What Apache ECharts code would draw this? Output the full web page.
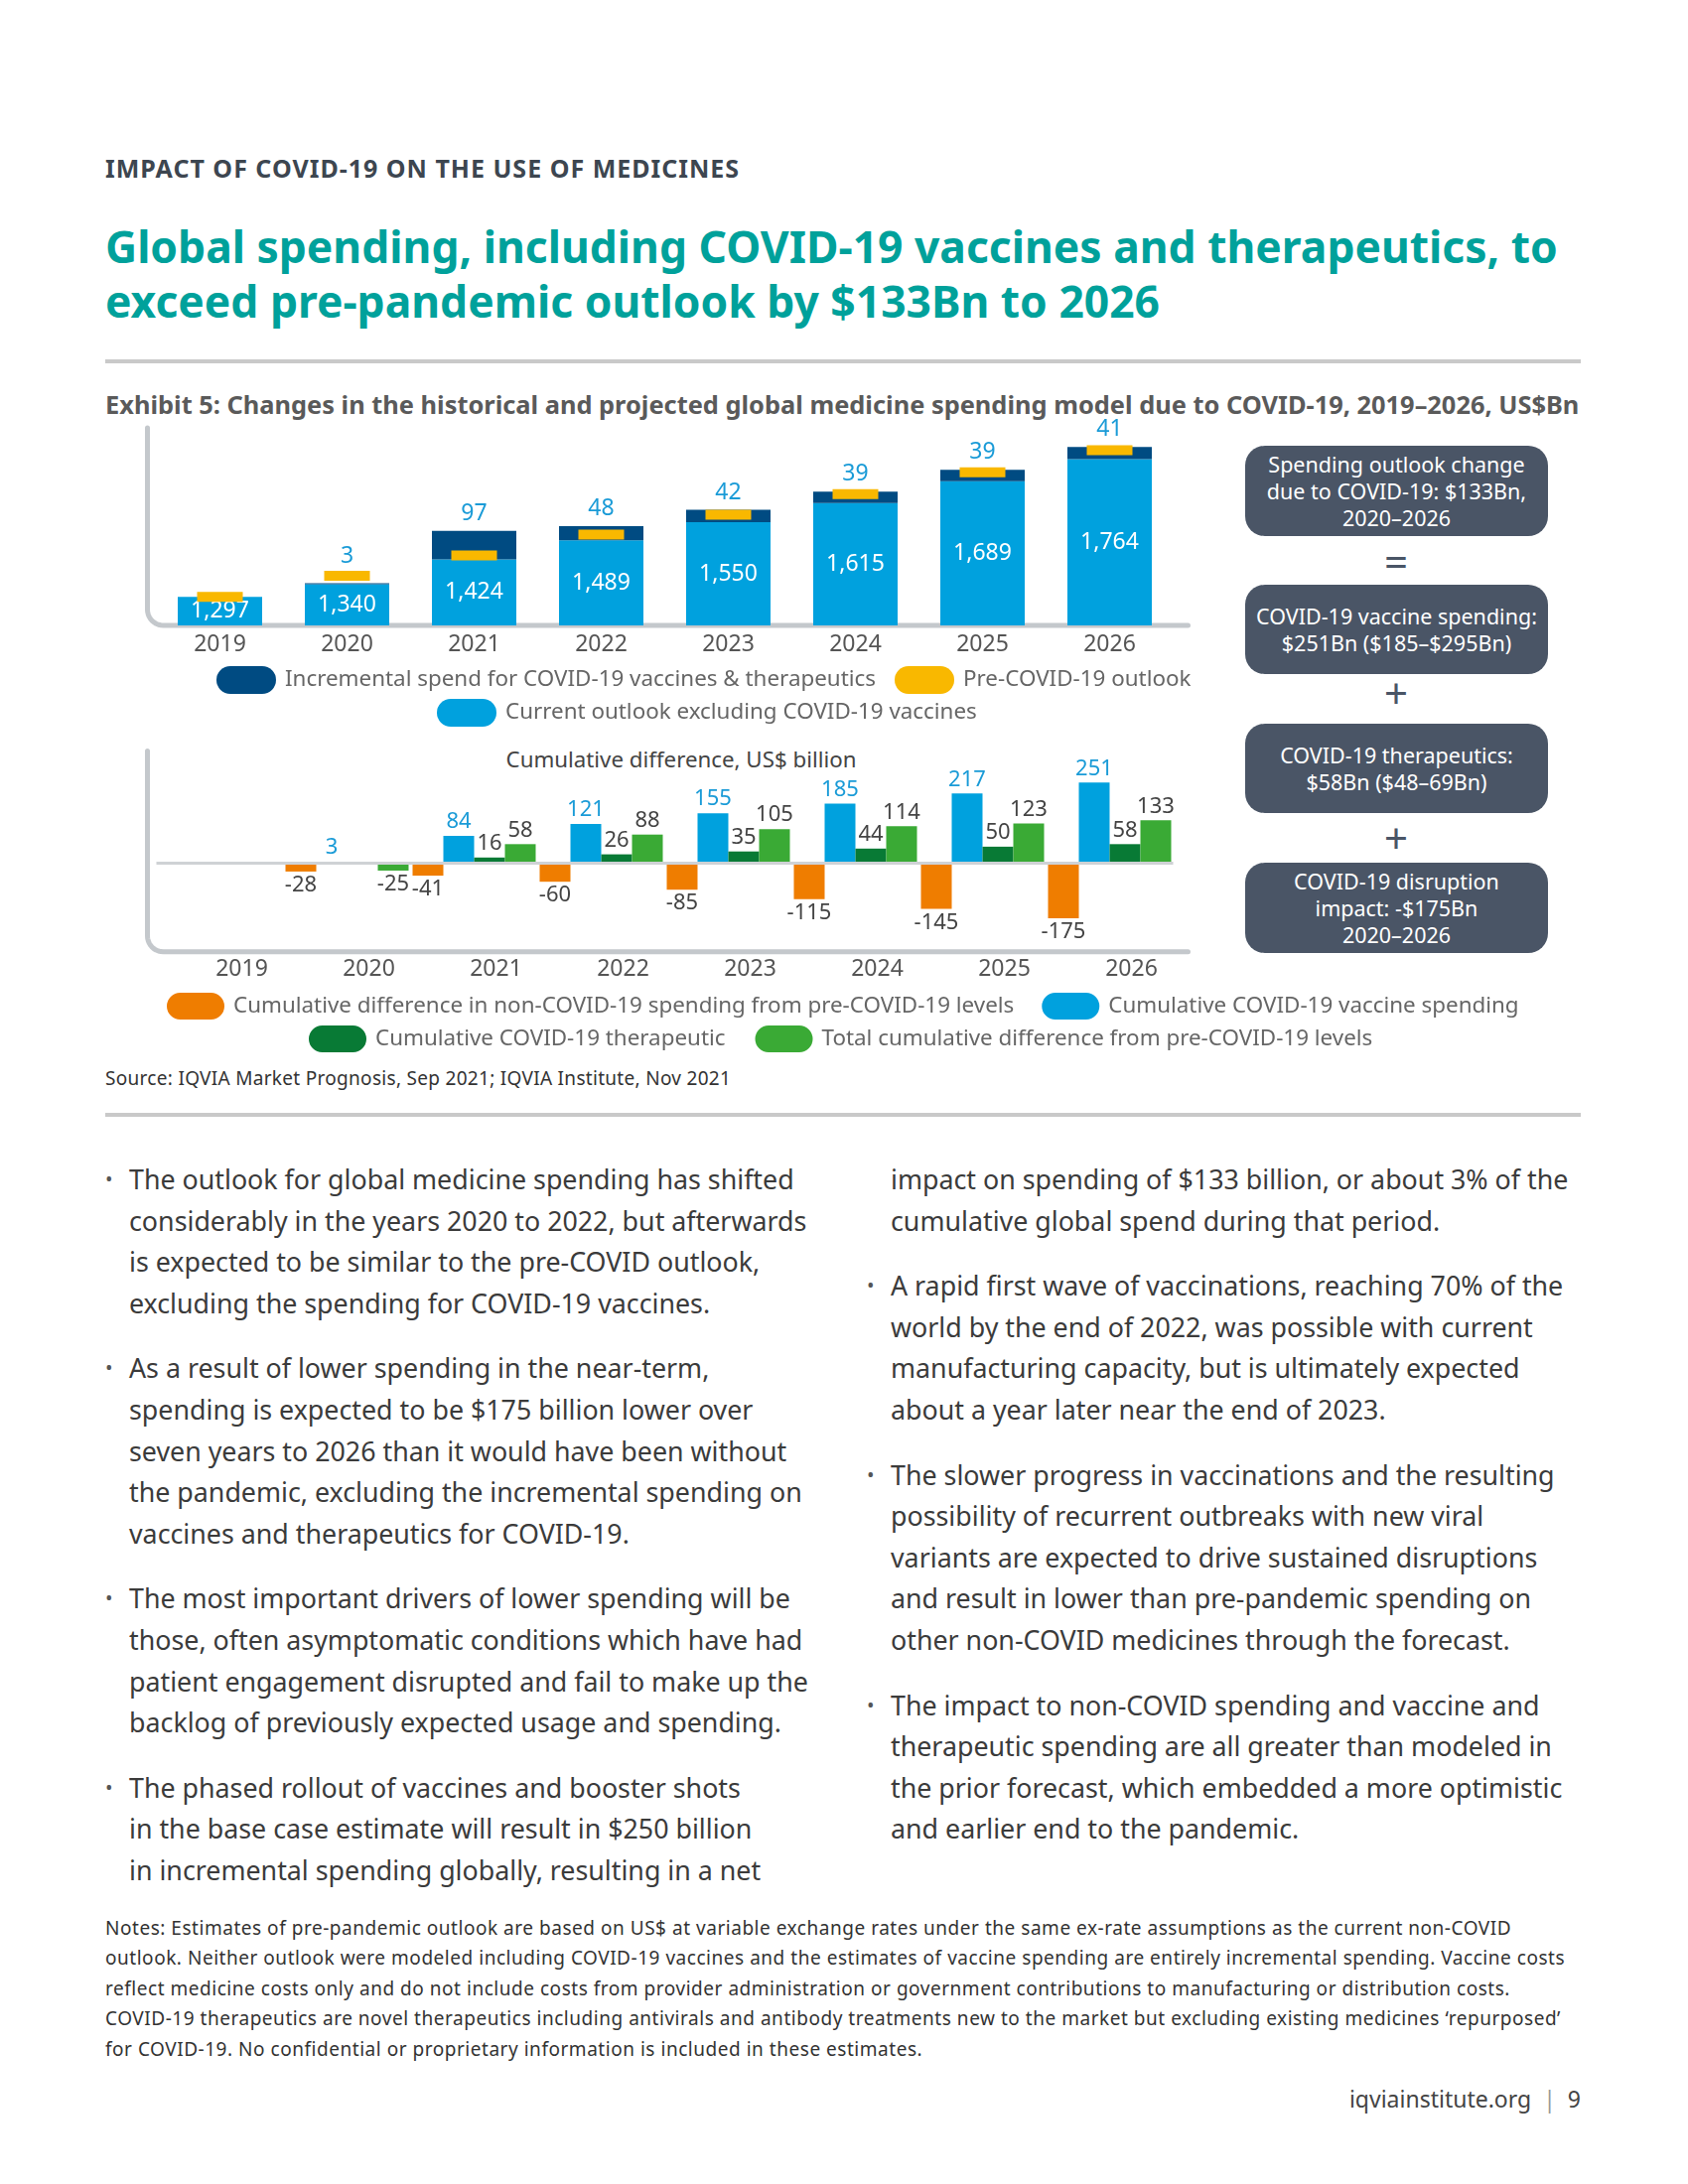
<!DOCTYPE html>
<html><head><meta charset="utf-8">
<script src="https://cdn.jsdelivr.net/npm/echarts@6/dist/echarts.min.js"></script>
<style>
body{margin:0;background:#fff;}
#page{position:relative;width:1700px;height:2200px;font-family:'Noto Sans',sans-serif;color:#3b3b3b;overflow:hidden;background:#fff;}
.abs{position:absolute;white-space:nowrap;}
#chart{position:absolute;left:0;top:0;width:1700px;height:2200px;}
.box{position:absolute;left:1254px;width:305px;background:#4a5566;color:#fff;border-radius:20px;font-size:21.5px;line-height:27px;text-align:center;display:flex;align-items:center;justify-content:center;}
.sym{position:absolute;left:1356px;width:100px;text-align:center;font-size:42px;color:#4a5566;line-height:42px;}
.rule{position:absolute;left:106px;width:1486px;height:4px;background:#c9c9c9;}
.col{position:absolute;top:1167px;font-size:26.8px;line-height:41.6px;color:#3b3b3b;white-space:nowrap;}
.col p{margin:0 0 24px 0;position:relative;}
.col p.b::before{content:'•';position:absolute;left:-24px;color:#555;font-size:20px;}
</style></head>
<body><div id="page">
<div class="abs" style="left:106px;top:154px;font-size:25px;letter-spacing:1px;font-weight:bold;color:#3d4650;line-height:30px;">IMPACT OF COVID-19 ON THE USE OF MEDICINES</div>
<div class="abs" style="left:106px;top:221px;font-size:44.4px;font-weight:bold;color:#00a19b;line-height:55px;">Global spending, including COVID-19 vaccines and therapeutics, to<br>exceed pre-pandemic outlook by $133Bn to 2026</div>
<div class="rule" style="top:362px;"></div>
<div class="abs" style="left:106px;top:392px;font-size:25.4px;font-weight:bold;color:#5a5a5a;line-height:30px;">Exhibit 5: Changes in the historical and projected global medicine spending model due to COVID-19, 2019–2026, US$Bn</div>

<div class="box" style="top:449px;height:91px;">Spending outlook change<br>due to COVID-19: $133Bn,<br>2020–2026</div>
<div class="sym" style="top:544px;">=</div>
<div class="box" style="top:589px;height:90px;">COVID-19 vaccine spending:<br>$251Bn ($185–$295Bn)</div>
<div class="sym" style="top:677px;">+</div>
<div class="box" style="top:729px;height:90px;">COVID-19 therapeutics:<br>$58Bn ($48–69Bn)</div>
<div class="sym" style="top:823px;">+</div>
<div class="box" style="top:869px;height:91px;">COVID-19 disruption<br>impact: -$175Bn<br>2020–2026</div>

<div class="abs" style="left:486px;width:400px;text-align:center;top:751px;font-size:22.3px;line-height:28px;color:#444;">Cumulative difference, US$ billion</div>

<div class="abs" style="left:106px;top:1073px;font-size:19px;letter-spacing:0.3px;line-height:26px;color:#333;">Source: IQVIA Market Prognosis, Sep 2021; IQVIA Institute, Nov 2021</div>
<div class="rule" style="top:1121px;"></div>

<div class="col" style="left:130px;">
<p class="b">The outlook for global medicine spending has shifted<br>considerably in the years 2020 to 2022, but afterwards<br>is expected to be similar to the pre-COVID outlook,<br>excluding the spending for COVID-19 vaccines.</p>
<p class="b">As a result of lower spending in the near-term,<br>spending is expected to be $175 billion lower over<br>seven years to 2026 than it would have been without<br>the pandemic, excluding the incremental spending on<br>vaccines and therapeutics for COVID-19.</p>
<p class="b">The most important drivers of lower spending will be<br>those, often asymptomatic conditions which have had<br>patient engagement disrupted and fail to make up the<br>backlog of previously expected usage and spending.</p>
<p class="b">The phased rollout of vaccines and booster shots<br>in the base case estimate will result in $250 billion<br>in incremental spending globally, resulting in a net</p>
</div>
<div class="col" style="left:897px;">
<p>impact on spending of $133 billion, or about 3% of the<br>cumulative global spend during that period.</p>
<p class="b">A rapid first wave of vaccinations, reaching 70% of the<br>world by the end of 2022, was possible with current<br>manufacturing capacity, but is ultimately expected<br>about a year later near the end of 2023.</p>
<p class="b">The slower progress in vaccinations and the resulting<br>possibility of recurrent outbreaks with new viral<br>variants are expected to drive sustained disruptions<br>and result in lower than pre-pandemic spending on<br>other non-COVID medicines through the forecast.</p>
<p class="b">The impact to non-COVID spending and vaccine and<br>therapeutic spending are all greater than modeled in<br>the prior forecast, which embedded a more optimistic<br>and earlier end to the pandemic.</p>
</div>

<div class="abs" style="left:106px;top:1927px;font-size:19px;letter-spacing:0.53px;line-height:30.4px;color:#333;">Notes: Estimates of pre-pandemic outlook are based on US$ at variable exchange rates under the same ex-rate assumptions as the current non-COVID<br>outlook. Neither outlook were modeled including COVID-19 vaccines and the estimates of vaccine spending are entirely incremental spending. Vaccine costs<br>reflect medicine costs only and do not include costs from provider administration or government contributions to manufacturing or distribution costs.<br>COVID-19 therapeutics are novel therapeutics including antivirals and antibody treatments new to the market but excluding existing medicines ‘repurposed’<br>for COVID-19. No confidential or proprietary information is included in these estimates.</div>

<div class="abs" style="right:108px;top:2099px;font-size:23px;line-height:30px;color:#444;">iqviainstitute.org <span style="color:#999;margin:0 6px;">|</span> 9</div>

<div id="chart"></div>
</div>
<script>
// ---- data ----
const years = ['2019','2020','2021','2022','2023','2024','2025','2026'];
const currentOutlook = [1297,1340,1424,1489,1550,1615,1689,1764];
const incrementalSpend = [0,3,97,48,42,39,39,41];
const preCovidOutlook = [1297,1368,1437,1508,1575,1645,1719,1794];
const nonCovidCumDiff = [null,-28,-41,-60,-85,-115,-145,-175];
const vaccineCum = [null,3,84,121,155,185,217,251];
const therapeuticCum = [null,0,16,26,35,44,50,58];
const totalCumDiff = [null,-25,58,88,105,114,123,133];

const C = {light:'#00a1de', navy:'#004b82', yellow:'#f9b800', orange:'#ef7d00', dkgreen:'#087a35', green:'#3aaa35', axis:'#c4c8cc', valBlue:'#1a9bd7'};
const FONT = 'Noto Sans';
const pill = 'path://M14,0 H46 A14,14 0 0 1 46,28 H14 A14,14 0 0 1 14,0 Z';

const topMin = 1200, topMax = 1870;
const G0 = {left:157.5, top:431, width:1024, height:199};
const G1 = {left:157.5, top:756.6, width:1024, height:202.2};
const ppu = G0.height / (topMax - topMin);

const chart = echarts.init(document.getElementById('chart'), null, {renderer:'canvas'});

const lbl = (extra) => Object.assign({show:true, fontFamily:FONT, fontSize:22, color:'#444'}, extra || {});
const hideZero = p => (p.value === null || p.value === undefined || p.value === 0) ? '' : String(p.value);
const lowerData = arr => arr.map(v => v === null ? null : ({value:v, label:{position: v < 0 ? 'bottom' : 'top'}}));

const catAxis = (gi, extra) => Object.assign({
  gridIndex:gi, type:'category', data:years,
  axisLine:{show:false}, axisTick:{show:false}
}, extra);
const valAxis = (gi, mn, mx) => ({
  gridIndex:gi, type:'value', min:mn, max:mx,
  axisLine:{show:false}, axisTick:{show:false}, axisLabel:{show:false}, splitLine:{show:false}
});
const legText = {fontFamily:FONT, fontSize:22.4, color:'#666', padding:[0,0,0,4]};

// rounded L-shaped frame around each plot (decoration derived from the grid boxes)
const frame = (g, extL, extR, r) => {
  const x = g.left - extL, y0 = g.top, y1 = g.top + g.height, x1 = g.left + g.width + extR;
  const pts = [[x, y0]];
  for (let k = 0; k <= 10; k++) {
    const a = Math.PI - (Math.PI / 2) * (k / 10); // from 180deg to 90deg (downwards in screen)
    pts.push([x + r + r * Math.cos(a), y1 - r + r * Math.sin(a)]);
  }
  pts.push([x1, y1]);
  return {type:'polyline', silent:true, z:0,
    shape:{points:pts},
    style:{stroke:C.axis, lineWidth:5, fill:null, lineCap:'round', lineJoin:'round'}};
};

chart.setOption({
  animation:false,
  grid:[ G0, G1 ],
  graphic:[ frame(G0, 9, 15, 16), frame(G1, 9, 15, 16) ],
  xAxis:[
    catAxis(0, {axisLabel:{fontFamily:FONT, fontSize:23, color:'#555', margin:8}}),
    catAxis(1, {axisLabel:{fontFamily:FONT, fontSize:23, color:'#555', margin:6, padding:[0,0,0,44]}})
  ],
  yAxis:[ valAxis(0, topMin, topMax), valAxis(1, -280, 350) ],
  legend:[
    {left:218, top:671, orient:'horizontal', icon:pill, itemWidth:60, itemHeight:28, itemGap:19, padding:0,
     textStyle:legText,
     data:['Incremental spend for COVID-19 vaccines & therapeutics','Pre-COVID-19 outlook']},
    {left:440, top:704, orient:'horizontal', icon:pill, itemWidth:60, itemHeight:28, padding:0,
     textStyle:legText,
     data:['Current outlook excluding COVID-19 vaccines']},
    {left:168, top:1000, orient:'horizontal', icon:pill, itemWidth:58, itemHeight:28, itemGap:28, padding:0,
     textStyle:legText,
     data:['Cumulative difference in non-COVID-19 spending from pre-COVID-19 levels','Cumulative COVID-19 vaccine spending']},
    {left:311, top:1033, orient:'horizontal', icon:pill, itemWidth:58, itemHeight:28, itemGap:30, padding:0,
     textStyle:legText,
     data:['Cumulative COVID-19 therapeutic','Total cumulative difference from pre-COVID-19 levels']}
  ],
  series:[
    {name:'Current outlook excluding COVID-19 vaccines', type:'bar', stack:'top', xAxisIndex:0, yAxisIndex:0,
     barWidth:85, itemStyle:{color:C.light}, data:currentOutlook,
     label:{show:true, position:'inside', fontFamily:FONT, fontSize:23, color:'#fff',
            formatter:p => p.value.toLocaleString('en-US')}},
    {name:'Incremental spend for COVID-19 vaccines & therapeutics', type:'bar', stack:'top', xAxisIndex:0, yAxisIndex:0,
     barWidth:85, itemStyle:{color:C.navy},
     data:incrementalSpend.map((v,i) => {
       const tot = currentOutlook[i] + v;
       const extra = Math.max(0, (preCovidOutlook[i] - tot) * ppu + 2);
       return {value:v, label:{distance:6 + extra}};
     }),
     label:{show:true, position:'top', fontFamily:FONT, fontSize:23, color:C.valBlue, formatter:hideZero}},
    {name:'Pre-COVID-19 outlook', type:'scatter', xAxisIndex:0, yAxisIndex:0, z:5,
     symbol:'rect', symbolSize:[46,10], itemStyle:{color:C.yellow, opacity:1}, data:preCovidOutlook},

    {name:'zero', type:'line', xAxisIndex:1, yAxisIndex:1, data:[], z:1, silent:true,
     markLine:{silent:true, symbol:'none', label:{show:false}, lineStyle:{color:'#cfd2d5', width:3, type:'solid'}, data:[{yAxis:0}]}},
    {name:'Cumulative difference in non-COVID-19 spending from pre-COVID-19 levels', type:'bar', xAxisIndex:1, yAxisIndex:1, z:3,
     barWidth:31, barGap:'0%', itemStyle:{color:C.orange}, data:lowerData(nonCovidCumDiff),
     label:lbl({distance:3, formatter:hideZero})},
    {name:'Cumulative COVID-19 vaccine spending', type:'bar', xAxisIndex:1, yAxisIndex:1, z:3,
     barWidth:31, barGap:'0%', itemStyle:{color:C.light}, data:lowerData(vaccineCum),
     label:lbl({distance:3, color:C.valBlue, formatter:hideZero})},
    {name:'Cumulative COVID-19 therapeutic', type:'bar', xAxisIndex:1, yAxisIndex:1, z:3,
     barWidth:31, barGap:'0%', itemStyle:{color:C.dkgreen}, data:lowerData(therapeuticCum),
     label:lbl({distance:3, formatter:hideZero})},
    {name:'Total cumulative difference from pre-COVID-19 levels', type:'bar', xAxisIndex:1, yAxisIndex:1, z:3,
     barWidth:31, barGap:'0%', itemStyle:{color:C.green}, data:lowerData(totalCumDiff),
     label:lbl({distance:3, formatter:hideZero})}
  ]
});
</script>
</body></html>
